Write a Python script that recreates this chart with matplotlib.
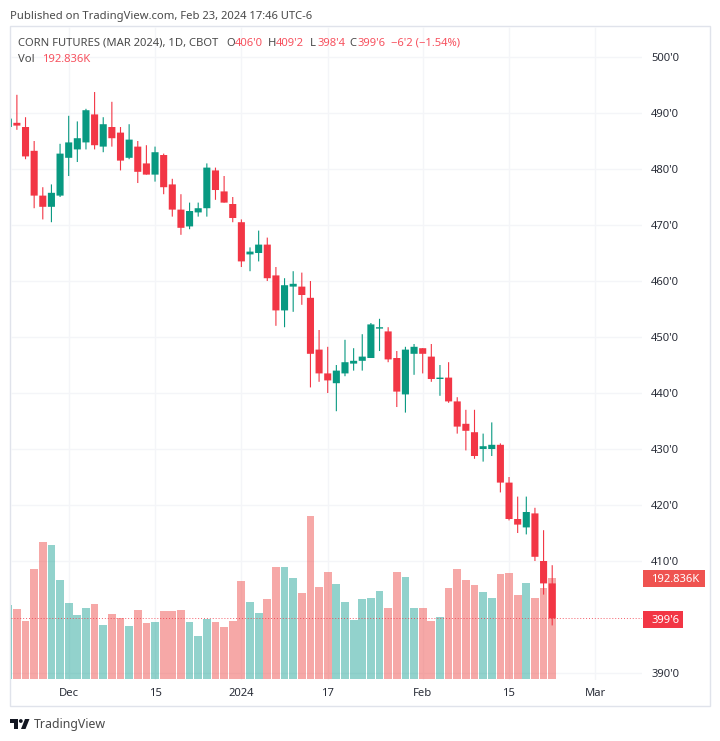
"""
Corn futures (Mar 2024) daily candles with volume, TradingView style.
"""
import matplotlib
matplotlib.use("Agg")
import matplotlib.pyplot as plt
from matplotlib.patches import Rectangle, Polygon, Circle

plt.rcParams["font.family"] = ["Noto Sans", "DejaVu Sans"]

W, H = 720, 741

opens = [487.5, 488.25, 487.5, 483.25, 475.25, 473.25, 475.25, 482, 483.5, 484.75, 489.75, 484, 487.5, 486.5, 482, 484,
         481, 479, 482.5, 477.25, 472.75, 469.75, 472.25, 473, 479.75, 476, 473.75, 470.5, 464.75, 465, 466.5, 461,
         454.75, 459, 459, 457, 447.75, 443.5, 441.75, 443.5, 445.25, 445.75, 446.25, 451.5, 451, 446.25, 439.75, 447,
         448, 446.5, 442.5, 442.75, 438.5, 434.5, 433, 430, 430, 430.75, 424, 417.5, 416, 418.5, 410, 406]
highs = [489.25, 493.25, 489.25, 485, 476.75, 477.25, 484.5, 489.5, 488.5, 490.75, 493.75, 489.25, 492, 487.5, 488, 485,
         484.25, 484, 482.75, 478.25, 475.5, 474, 474, 481, 480.25, 478.75, 475, 471, 466, 469, 467.75, 462.5,
         460.5, 461.75, 461.5, 460, 451.25, 448.25, 445, 449.5, 448, 450.5, 452.5, 453.25, 451.75, 447.5, 448.25, 448.75,
         448, 448.75, 445, 445.5, 439.25, 437, 437, 432.75, 434.75, 431, 425, 421.5, 421.5, 419.5, 415.5, 409.25]
lows = [487.25, 487, 481.75, 473, 471, 470.5, 475, 478.75, 481.25, 483.5, 483.5, 483, 484, 479.75, 481.75, 477.5,
        479, 477.75, 475.5, 471.5, 468.25, 469.25, 471.5, 471.5, 474.5, 474, 470.5, 462.5, 461.75, 463.5, 460, 452,
        451.75, 454.5, 455.75, 441, 442, 440, 436.75, 443, 444, 444, 446.25, 447.5, 445.5, 437.5, 436.5, 443.25,
        443.5, 442, 439.5, 438.25, 432.75, 429.75, 428.25, 427.75, 428.75, 422.25, 417.25, 415, 414.75, 410, 404, 398.5]
closes = [489, 487.75, 482.25, 475.25, 473.25, 475.75, 482.75, 484.75, 485.5, 490.5, 484.25, 488, 485.5, 481.5, 485.25, 479.5,
          479, 483, 476.75, 472.75, 469.5, 472.5, 473, 480.25, 476.25, 474, 471.25, 463.5, 465.25, 466.5, 460.5, 454.75,
          459.25, 459.5, 457.5, 447, 443.5, 442.25, 444, 445.5, 445.75, 446.5, 452.25, 451.75, 446, 440.25, 447.75, 448.25,
          447, 442.5, 442.75, 438.5, 434, 433.25, 428.75, 430.5, 430.75, 424, 417.5, 416.5, 418.75, 410.75, 406, 399.75]
volumes = [142.3, 133.3, 110.2, 211.5, 263.4, 257, 189, 144.8, 121.8, 135.8, 143.5, 103.8, 123.7, 116.6, 101.2, 131.4,
           107, 108.9, 130.1, 130.1, 132, 108.9, 81.4, 114.1, 108.9, 99.3, 110.2, 187.8, 148, 126.9, 152.5, 214.7,
           214.7, 193.5, 164.7, 313.4, 175.6, 205.7, 181.3, 148, 113.4, 152.5, 155.7, 169.2, 135.8, 204.4, 194.8, 135.8,
           135.8, 110.2, 117.9, 173.7, 211.5, 189, 180.1, 166, 154.4, 201.2, 202.5, 160.2, 184.6, 154.4, 174.9, 192.836]

price_ticks = [500, 490, 480, 470, 460, 450, 440, 430, 420, 410, 390]
price_labels = ["500'0", "490'0", "480'0", "470'0", "460'0", "450'0", "440'0", "430'0", "420'0", "410'0", "390'0"]
date_ticks = [7, 17, 27, 37, 48, 58, 68]
date_labels = ["Dec", "15", "2024", "17", "Feb", "15", "Mar"]

UP, DOWN = "#089981", "#f23645"
VOL_UP, VOL_DOWN = "#26a69a", "#ef5350"
GRID = "#f4f5f8"
TEXT = "#2a2e39"
HEAD = "#4a4a4a"
N = len(closes)


def fx(x):
    return x / W


def fy(y):
    return 1 - y / H


def label(x, y, s, color=TEXT, size=8.1, **kw):
    # center anchor sits a bit high for this font
    return fig.text(fx(x), fy(y + 1.2), s, color=color, fontsize=size, va="center", **kw)


fig = plt.figure(figsize=(W / 100, H / 100), dpi=100, facecolor="white")

# outer frame
fig.add_artist(Rectangle((fx(10), fy(706)), fx(700), 680 / H, transform=fig.transFigure,
                         facecolor="white", edgecolor="#e0e3eb", linewidth=1))

# plot box in pixels: x 10.5-642, y 27-680
box = [fx(10.5), fy(680), fx(631.5), 653 / H]
ax_vol = fig.add_axes(box, zorder=1)
ax = fig.add_axes(box, zorder=2, sharex=ax_vol)
ax.patch.set_visible(False)
ax_vol.patch.set_visible(False)

ax.set_xlim(0.26, 73.4)
ax.set_ylim(388.75, 505.36)
ax_vol.set_ylim(-2.5, 1253)

# grid goes under the volume bars
ax_vol.hlines(price_ticks, 0, 1, transform=ax.get_yaxis_transform(), color=GRID, linewidth=1, zorder=0)
ax_vol.vlines(date_ticks, 0, 1, transform=ax_vol.get_xaxis_transform(), color=GRID, linewidth=1, zorder=0)

xs = list(range(N))
vol_colors = [VOL_UP if c >= o else VOL_DOWN for o, c in zip(opens, closes)]
ax_vol.bar(xs, volumes, width=0.9, color=vol_colors, alpha=0.5, linewidth=0, zorder=2)

colors = [UP if c >= o else DOWN for o, c in zip(opens, closes)]
wicks = ax.vlines(xs, lows, highs, colors=colors, linewidth=0.8, zorder=3)
wicks.set_snap(False)
bottoms = [min(o, c) for o, c in zip(opens, closes)]
heights = [abs(c - o) for o, c in zip(opens, closes)]
bars = ax.bar(xs, heights, bottom=bottoms, width=0.82, color=colors, linewidth=0, zorder=4)
for b in bars:
    b.set_snap(False)

ax.axhline(closes[-1], color=DOWN, linewidth=0.7, linestyle=(0, (1, 2)), alpha=0.8, zorder=5)

for a in (ax, ax_vol):
    for s in a.spines.values():
        s.set_visible(False)
    a.set_yticks([])
    a.tick_params(length=0, labelbottom=False)
ax.set_xticks([])

# price axis text
for p, t in zip(price_ticks, price_labels):
    label(651, 57 + (500 - p) * 5.6, t)

# date axis text
for d, t in zip(date_ticks, date_labels):
    label(8.27 + d * 8.633, 692, t, ha="center", fontweight="bold" if t == "2024" else "normal")

# last value boxes
fig.add_artist(Rectangle((fx(642.7), fy(586.7)), 62 / W, 16.7 / H, transform=fig.transFigure,
                         facecolor=VOL_DOWN, edgecolor="none"))
label(651, 578.3, "192.836K", color="white")
fig.add_artist(Rectangle((fx(642.7), fy(627.7)), 40 / W, 16.7 / H, transform=fig.transFigure,
                         facecolor=DOWN, edgecolor="none"))
label(651, 619.3, "399'6", color="white")

# header
label(10, 15, "Published on TradingView.com, Feb 23, 2024 17:46 UTC-6", color=HEAD)
label(18, 42, "CORN FUTURES (MAR 2024), 1D, CBOT", color=HEAD)
for x, letter, x_val, val in [(226.7, "O", 235, "406'0"), (268, "H", 276, "409'2"),
                              (310, "L", 318, "398'4"), (349, "C", 358, "399'6")]:
    label(x, 42, letter, color=HEAD)
    label(x_val, 42, val, color="#f7525f")
label(390.7, 42, "\u22126'2 (\u22121.54%)", color="#f7525f")
label(18, 58, "Vol", color=HEAD)
label(42, 58, "192.836K", color="#f7525f")

# logo
logo = "#131722"
logo_shapes = [
    Polygon([(fx(10), fy(719)), (fx(17.5), fy(719)), (fx(17.5), fy(729)), (fx(14), fy(729)),
             (fx(14), fy(722.5)), (fx(10), fy(722.5))], closed=True),
    Polygon([(fx(25), fy(719)), (fx(29.5), fy(719)), (fx(25.5), fy(729)), (fx(21), fy(729))], closed=True),
]
for s in logo_shapes:
    s.set_transform(fig.transFigure)
    s.set_facecolor(logo)
    s.set_edgecolor("none")
    fig.add_artist(s)
fig.add_artist(Circle((20.8, H - 721), 1.9, transform=None, facecolor=logo, edgecolor="none"))
label(34, 723, "TradingView", color=HEAD, size=8.9)

fig.savefig("out.png", dpi=100, facecolor="white")
